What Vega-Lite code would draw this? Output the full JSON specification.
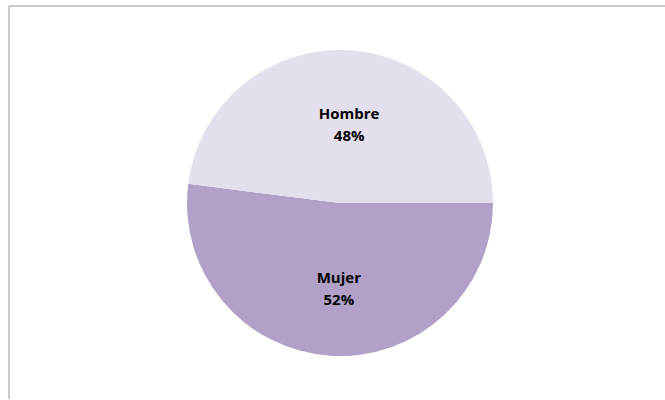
{
  "$schema": "https://vega.github.io/schema/vega-lite/v6.json",
  "width": 662,
  "height": 394,
  "padding": {"left": 8, "top": 5, "right": -5, "bottom": -2},
  "background": "white",
  "data": {"values": [
    {"sexo": "Mujer", "pct": 0.52},
    {"sexo": "Hombre", "pct": 0.48}
  ]},
  "layer": [
    {"data": {"values": [{"borde": 1}]},
     "mark": {"type": "rect", "fill": null, "stroke": "#999999", "strokeWidth": 1},
     "encoding": {}},
    {"mark": {"type": "arc", "outerRadius": 153},
     "encoding": {
       "theta": {"field": "pct", "type": "quantitative", "stack": true, "scale": {"range": [1.5708, 7.854]}},
       "color": {"field": "sexo", "type": "nominal", "sort": ["Mujer", "Hombre"], "scale": {"domain": ["Mujer", "Hombre"], "range": ["#B1A0C7", "#E4DFEC"]}, "legend": null},
       "order": {"field": "sexo", "sort": "descending"}
     }},
    {"mark": {"type": "text", "radius": 82, "dy": -7, "dx": 4, "font": "Open Sans", "fontSize": 15, "fontWeight": "bold", "fill": "#000000"},
     "encoding": {
       "theta": {"field": "pct", "type": "quantitative", "stack": true, "scale": {"range": [1.5708, 7.854]}},
       "order": {"field": "sexo", "sort": "descending"},
       "text": {"field": "sexo"}}},
    {"mark": {"type": "text", "radius": 82, "dy": 15, "dx": 4, "font": "Open Sans", "fontSize": 15, "fontWeight": "bold", "fill": "#000000"},
     "encoding": {
       "theta": {"field": "pct", "type": "quantitative", "stack": true, "scale": {"range": [1.5708, 7.854]}},
       "order": {"field": "sexo", "sort": "descending"},
       "text": {"field": "pct", "type": "quantitative", "format": ".0%"}}}
  ]
}
